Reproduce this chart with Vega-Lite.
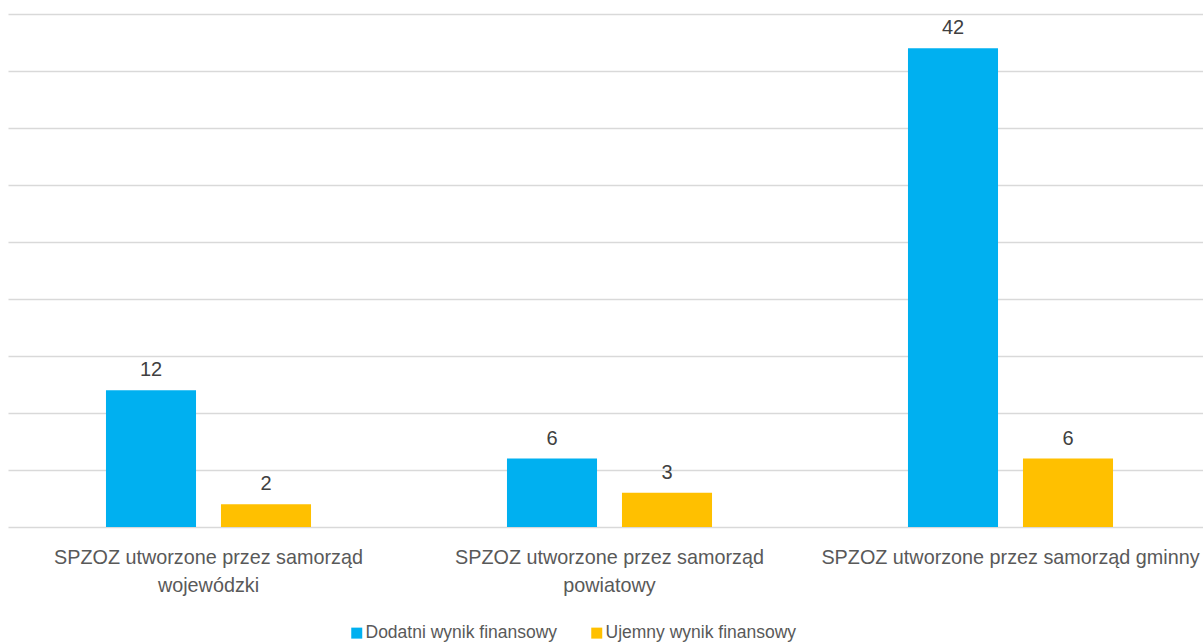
{
  "$schema": "https://vega.github.io/schema/vega-lite/v6.json",
  "width": 1195,
  "height": 513,
  "autosize": "none",
  "padding": {"left": 8, "top": 14, "right": 0, "bottom": 117},
  "background": "white",
  "data": {
    "values": [
      {"grupa": "SPZOZ utworzone przez samorząd|wojewódzki", "seria": "Dodatni wynik finansowy", "wartosc": 12},
      {"grupa": "SPZOZ utworzone przez samorząd|wojewódzki", "seria": "Ujemny wynik finansowy", "wartosc": 2},
      {"grupa": "SPZOZ utworzone przez samorząd|powiatowy", "seria": "Dodatni wynik finansowy", "wartosc": 6},
      {"grupa": "SPZOZ utworzone przez samorząd|powiatowy", "seria": "Ujemny wynik finansowy", "wartosc": 3},
      {"grupa": "SPZOZ utworzone przez samorząd gminny", "seria": "Dodatni wynik finansowy", "wartosc": 42},
      {"grupa": "SPZOZ utworzone przez samorząd gminny", "seria": "Ujemny wynik finansowy", "wartosc": 6}
    ]
  },
  "encoding": {
    "x": {
      "field": "grupa", "type": "nominal", "sort": null,
      "scale": {"paddingInner": 0, "paddingOuter": 0, "range": [0, 1203]},
      "axis": {
        "title": null, "labelAngle": 0, "ticks": false, "domain": false,
        "labelExpr": "split(datum.value, '|')",
        "labelFont": "Liberation Sans", "labelFontSize": 19.8,
        "labelColor": "#595959", "labelPadding": 20, "labelBaseline": "top",
        "labelLineHeight": 28, "labelLimit": 0, "labelOverlap": false
      }
    },
    "xOffset": {
      "field": "seria", "type": "nominal",
      "scale": {"paddingInner": 0.217, "paddingOuter": 0.852}
    },
    "y": {
      "field": "wartosc", "type": "quantitative",
      "scale": {"domain": [0, 45], "nice": false},
      "axis": {
        "title": null, "labels": false, "ticks": false, "domain": false,
        "values": [0, 5, 10, 15, 20, 25, 30, 35, 40, 45],
        "grid": true, "gridColor": "#d9d9d9", "gridWidth": 1.3
      }
    }
  },
  "layer": [
    {
      "mark": {"type": "bar"},
      "encoding": {
        "color": {
          "field": "seria", "type": "nominal",
          "scale": {"domain": ["Dodatni wynik finansowy", "Ujemny wynik finansowy"], "range": ["#00B0F0", "#FFC000"]},
          "legend": {
            "title": null, "orient": "none", "direction": "horizontal",
            "legendX": 340, "legendY": 610,
            "symbolType": "square", "symbolSize": 121, "symbolStrokeWidth": 0,
            "labelFont": "Liberation Sans", "labelFontSize": 17.5,
            "labelColor": "#595959", "columnPadding": 30, "labelOffset": 0,
            "labelLimit": 0
          }
        }
      }
    },
    {
      "mark": {"type": "text", "baseline": "bottom", "dy": -10, "font": "Liberation Sans", "fontSize": 20, "color": "#404040"},
      "encoding": {"text": {"field": "wartosc", "type": "quantitative"}}
    }
  ],
  "config": {"view": {"stroke": null}}
}
